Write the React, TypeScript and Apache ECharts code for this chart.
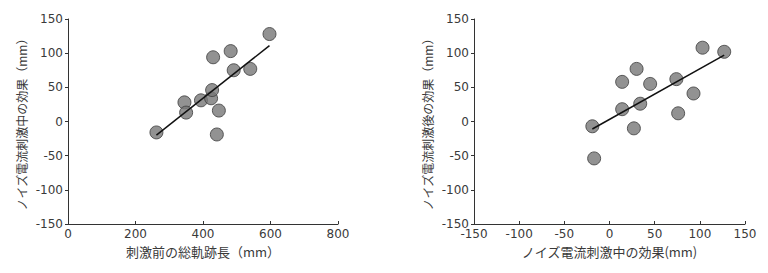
import React, { useEffect, useRef } from "react";
import * as echarts from "echarts";

// Left chart: total path length before stimulation vs. effect during noise stimulation
const leftX = [262, 345, 350, 394, 424, 427, 430, 447, 441, 482, 491, 540, 597];
const leftY = [-16, 28, 13, 31, 34, 46, 94, 16, -19, 103, 75, 77, 128];
const leftFitX = [262, 597];
const leftFitY = [-20, 111];

// Right chart: effect during stimulation vs. effect after stimulation
const rightX = [-19, -17, 14, 14, 27, 30, 34, 45, 74, 76, 93, 103, 127];
const rightY = [-7, -54, 58, 18, -10, 77, 26, 55, 62, 12, 41, 108, 102];
const rightFitX = [-19, 127];
const rightFitY = [-11, 97];

const leftXTicks = { min: 0, max: 800, interval: 200 };
const rightXTicks = { min: -150, max: 150, interval: 50 };
const yTicks = { min: -150, max: 150, interval: 50 };

const leftXName = "刺激前の総軌跡長（mm）";
const leftYName = "ノイズ電流刺激中の効果（mm）";
const rightXName = "ノイズ電流刺激中の効果(mm)";
const rightYName = "ノイズ電流刺激後の効果（mm）";

const FONT = "'DejaVu Sans', 'Noto Sans CJK JP', sans-serif";
const NAME_FONT = "'Noto Sans CJK JP', sans-serif";
const TEXT = "#3a3a3a";

function axisBase() {
  return {
    axisLine: { show: true, onZero: false, lineStyle: { color: "#333", width: 1 } },
    splitLine: { show: false },
  };
}

export default function App() {
  const ref = useRef<HTMLDivElement>(null);
  useEffect(() => {
    if (!ref.current) return;
    const chart = echarts.init(ref.current, null, { renderer: "svg" });
    const pts = (xs: number[], ys: number[]) => xs.map((x, i) => [x, ys[i]]);
    const scatterStyle = {
      color: "#777777",
      borderColor: "#3c3c3c",
      borderWidth: 1,
    };
    const xTick = { show: true, inside: true, length: 3, lineStyle: { color: "#333" } };
    const yTick = { show: true, length: 3, lineStyle: { color: "#333" } };
    const yLabel = { color: TEXT, fontSize: 12, fontFamily: FONT, margin: 5 };
    const xLabel = { color: TEXT, fontSize: 12, fontFamily: FONT, margin: 4 };
    const xNameStyle = { color: TEXT, fontSize: 13, fontFamily: NAME_FONT };
    const yNameStyle = { color: TEXT, fontSize: 12, fontFamily: NAME_FONT };
    chart.setOption({
      animation: false,
      backgroundColor: "#ffffff",
      grid: [
        { left: 68, width: 270, top: 19, height: 205 },
        { left: 474, width: 271, top: 19, height: 205 },
      ],
      xAxis: [
        {
          ...axisBase(),
          gridIndex: 0,
          type: "value",
          ...leftXTicks,
          axisTick: xTick,
          axisLabel: xLabel,
          name: leftXName,
          nameLocation: "middle",
          nameGap: 19,
          nameTextStyle: xNameStyle,
        },
        {
          ...axisBase(),
          gridIndex: 1,
          type: "value",
          ...rightXTicks,
          axisTick: xTick,
          axisLabel: xLabel,
          name: rightXName,
          nameLocation: "middle",
          nameGap: 19,
          nameTextStyle: xNameStyle,
        },
      ],
      yAxis: [
        {
          ...axisBase(),
          gridIndex: 0,
          type: "value",
          ...yTicks,
          axisTick: yTick,
          axisLabel: yLabel,
          name: leftYName,
          nameLocation: "middle",
          nameGap: 41,
          nameTextStyle: yNameStyle,
        },
        {
          ...axisBase(),
          gridIndex: 1,
          type: "value",
          ...yTicks,
          axisTick: yTick,
          axisLabel: yLabel,
          name: rightYName,
          nameLocation: "middle",
          nameGap: 41,
          nameTextStyle: yNameStyle,
        },
      ],
      series: [
        {
          type: "line",
          xAxisIndex: 0,
          yAxisIndex: 0,
          data: pts(leftFitX, leftFitY),
          showSymbol: false,
          lineStyle: { color: "#111", width: 1.5 },
          z: 3,
        },
        {
          type: "scatter",
          xAxisIndex: 0,
          yAxisIndex: 0,
          data: pts(leftX, leftY),
          symbolSize: 13,
          itemStyle: scatterStyle,
          z: 2,
        },
        {
          type: "line",
          xAxisIndex: 1,
          yAxisIndex: 1,
          data: pts(rightFitX, rightFitY),
          showSymbol: false,
          lineStyle: { color: "#111", width: 1.5 },
          z: 3,
        },
        {
          type: "scatter",
          xAxisIndex: 1,
          yAxisIndex: 1,
          data: pts(rightX, rightY),
          symbolSize: 13,
          itemStyle: scatterStyle,
          z: 2,
        },
      ],
    });
    return () => chart.dispose();
  }, []);
  return (
    <div
      ref={ref}
      style={{ position: "fixed", left: 0, top: 0, width: 768, height: 273, background: "#fff" }}
    />
  );
}
